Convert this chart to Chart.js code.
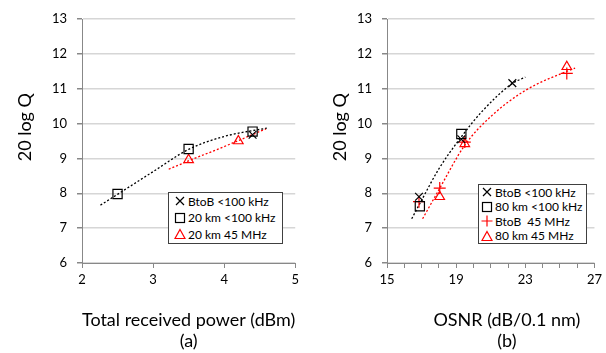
<!DOCTYPE html>
<html>
<head>
<meta charset="utf-8">
<script src="https://cdn.jsdelivr.net/npm/chart.js@4.4.1/dist/chart.umd.min.js"></script>
<style>
  body { margin: 0; background: #fff; }
  #wrap { position: relative; width: 606px; height: 353px; overflow: hidden; font-family: Lato, "Open Sans", sans-serif; }
  .pane { position: absolute; top: 0; width: 303px; height: 353px; }
  .legend { position: absolute; background: #fff; border: 1px solid #404040; font-size: 12px; color: #000; box-sizing: border-box; }
  .legend .row { display: flex; align-items: center; white-space: pre; }
  .legend svg { flex: none; }
</style>
</head>
<body>
<div id="wrap">
  <div class="pane" style="left:0"><canvas id="chartA" width="303" height="353"></canvas></div>
  <div class="pane" style="left:303px"><canvas id="chartB" width="303" height="353"></canvas></div>
  <div class="legend" id="legendA" style="left:168px; top:192px; width:115px; height:52px;"></div>
  <div class="legend" id="legendB" style="left:478px; top:184px; width:109px; height:60px;"></div>
</div>
<script>
// ---- (a) total received power ----
const aNames = ["BtoB <100 kHz", "20 km <100 kHz", "20 km 45 MHz"];
const aBtobX = [4.4];
const aBtobY = [9.68];
const a20kX = [2.5, 3.5, 4.4];
const a20kY = [7.98, 9.27, 9.77];
const a20k45X = [3.5, 4.2];
const a20k45Y = [8.96, 9.5];
// dotted trend curves
const aTrendBlackX = [2.26, 2.5, 3.0, 3.5, 4.0, 4.6];
const aTrendBlackY = [7.66, 7.97, 8.62, 9.26, 9.63, 9.87];
const aTrendRedX = [3.22, 3.5, 4.0, 4.59];
const aTrendRedY = [8.69, 8.93, 9.34, 9.85];

// ---- (b) OSNR ----
const bNames = ["BtoB <100 kHz", "80 km <100 kHz", "BtoB  45 MHz", "80 km 45 MHz"];
const bBtobX = [16.85, 19.3, 22.25];
const bBtobY = [7.9, 9.55, 11.16];
const b80kX = [16.9, 19.3];
const b80kY = [7.63, 9.7];
const bBtob45X = [16.85, 18.05, 19.5, 25.4];
const bBtob45Y = [7.76, 8.15, 9.47, 11.44];
const b80k45X = [18.05, 19.5, 25.4];
const b80k45Y = [7.9, 9.42, 11.63];
const bTrendBlackX = [16.43, 17, 18, 19.3, 20.5, 22.25, 23.0];
const bTrendBlackY = [7.27, 7.8, 8.7, 9.62, 10.35, 11.15, 11.33];
const bTrendRedX = [17.06, 18, 19.5, 21, 23, 25.4, 25.88];
const bTrendRedY = [7.27, 8.1, 9.38, 10.2, 10.95, 11.5, 11.59];

const yTicks = [6, 7, 8, 9, 10, 11, 12, 13];
const aXTicks = [2, 3, 4, 5];
const bXLabels = [15, 19, 23, 27];

const RED = "#ff0000";
const AXIS = "#888888";

Chart.defaults.font.family = 'Lato, "Open Sans", sans-serif';
Chart.defaults.color = "#000";

function pts(xs, ys) {
  return xs.map((x, i) => ({ x: x, y: ys[i] }));
}

function marks(xs, ys, style, color, r) {
  return {
    data: pts(xs, ys),
    pointStyle: style,
    pointRadius: r,
    pointHoverRadius: r,
    borderColor: color,
    backgroundColor: "rgba(0,0,0,0)",
    borderWidth: 1.2,
    showLine: false,
    order: 1,
  };
}

function trend(xs, ys, color) {
  return {
    data: pts(xs, ys),
    showLine: true,
    borderColor: color,
    borderWidth: 1.3,
    borderDash: [2, 2],
    pointRadius: 0,
    pointHoverRadius: 0,
    cubicInterpolationMode: "monotone",
    fill: false,
    order: 2,
  };
}

function makeChart(id, datasets, xCfg, yWidth, padRight, yTitlePad, xTitle) {
  return new Chart(document.getElementById(id), {
    type: "scatter",
    data: { datasets: datasets },
    options: {
      responsive: false,
      animation: false,
      events: [],
      layout: { padding: { left: 0, right: padRight, top: 19, bottom: 0 } },
      plugins: { legend: { display: false }, tooltip: { enabled: false } },
      scales: {
        x: {
          type: "linear",
          min: xCfg.min,
          max: xCfg.max,
          ticks: {
            stepSize: xCfg.step,
            autoSkip: false,
            maxRotation: 0,
            padding: 4,
            font: { size: 13 },
            color: "#000",
            callback: xCfg.label,
          },
          grid: { drawOnChartArea: false, drawTicks: true, tickLength: 5, tickColor: AXIS },
          border: { color: AXIS, width: 1 },
          title: {
            display: true,
            text: xTitle,
            font: { size: 18, lineHeight: 1.17 },
            color: "#000",
            padding: { top: 0, bottom: 1 },
          },
          afterFit: (s) => { s.height = 90; },
        },
        y: {
          min: yTicks[0],
          max: yTicks[yTicks.length - 1],
          ticks: { stepSize: 1, padding: 10, font: { size: 13 }, color: "#000" },
          grid: { color: "#d6d6d6", lineWidth: 1.5, tickLength: 5, tickColor: AXIS },
          border: { color: AXIS, width: 1 },
          title: {
            display: true,
            text: "      20 log Q",
            font: { size: 18, lineHeight: 1.2 },
            color: "#000",
            padding: { top: yTitlePad, bottom: 0 },
          },
          afterFit: (s) => { s.width = yWidth; },
        },
      },
    },
  });
}

makeChart("chartA", [
  trend(aTrendBlackX, aTrendBlackY, "#000"),
  trend(aTrendRedX, aTrendRedY, RED),
  marks(aBtobX, aBtobY, "crossRot", "#000", 5.5),
  marks(a20kX, a20kY, "rect", "#000", 6.5),
  marks(a20k45X, a20k45Y, "triangle", RED, 5.5),
], {
  min: aXTicks[0], max: aXTicks[aXTicks.length - 1], step: 1,
  label: (v) => (aXTicks.includes(v) ? String(v) : ""),
}, 82, 4, 14, ["Total received power (dBm)", "(a)"]);

makeChart("chartB", [
  trend(bTrendBlackX, bTrendBlackY, "#000"),
  trend(bTrendRedX, bTrendRedY, RED),
  marks(bBtobX, bBtobY, "crossRot", "#000", 5.5),
  marks(b80kX, b80kY, "rect", "#000", 6.5),
  marks(bBtob45X, bBtob45Y, "cross", RED, 6),
  marks(b80k45X, b80k45Y, "triangle", RED, 5.5),
], {
  min: bXLabels[0], max: bXLabels[bXLabels.length - 1], step: 1,
  label: (v) => (bXLabels.includes(v) ? String(v) : ""),
}, 84, 7, 26, ["       OSNR (dB/0.1 nm)", "       (b)"]);

// boxed legends inside the plot area
function markerSvg(style, color) {
  let body = "";
  if (style === "crossRot") body = '<path d="M2 2L10 10M10 2L2 10" stroke="' + color + '" stroke-width="1.2" fill="none"/>';
  if (style === "rect") body = '<rect x="1.5" y="1.5" width="9" height="9" stroke="' + color + '" stroke-width="1.2" fill="none"/>';
  if (style === "cross") body = '<path d="M6 0.5L6 11.5M0.5 6L11.5 6" stroke="' + color + '" stroke-width="1.2" fill="none"/>';
  if (style === "triangle") body = '<path d="M6 1.5L11 10.5L1 10.5Z" stroke="' + color + '" stroke-width="1.2" fill="none"/>';
  return '<svg width="12" height="12" viewBox="0 0 12 12">' + body + "</svg>";
}

function buildLegend(id, names, styles, colors, rowH, markLeft, gap) {
  const el = document.getElementById(id);
  el.innerHTML = names.map((n, i) =>
    '<div class="row" style="height:' + rowH + 'px">' +
    '<span style="margin-left:' + markLeft + 'px;display:flex">' + markerSvg(styles[i], colors[i]) + "</span>" +
    '<span style="margin-left:' + gap + 'px">' + n.replace(/</g, "&lt;") + "</span></div>"
  ).join("");
}

buildLegend("legendA", aNames, ["crossRot", "rect", "triangle"], ["#000", "#000", RED], 16.5, 5, 2);
buildLegend("legendB", bNames, ["crossRot", "rect", "cross", "triangle"], ["#000", "#000", RED, RED], 14.5, 2, 2);
</script>
</body>
</html>
